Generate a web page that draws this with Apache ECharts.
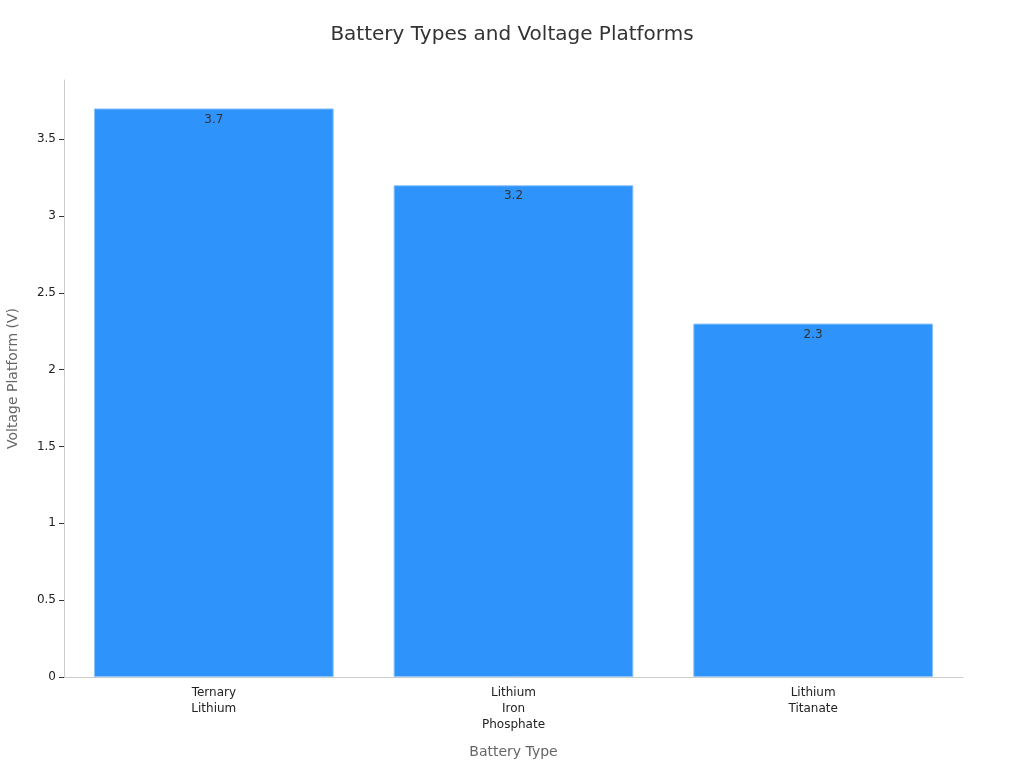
<!DOCTYPE html>
<html>
<head>
<meta charset="utf-8">
<script src="https://cdn.jsdelivr.net/npm/echarts@6/dist/echarts.min.js"></script>
<style>
html, body { margin: 0; padding: 0; background: #fff; }
#chart { width: 1024px; height: 768px; }
</style>
</head>
<body>
<div id="chart"></div>
<script>
var categories = ['Ternary\nLithium', 'Lithium\nIron\nPhosphate', 'Lithium\nTitanate'];
var voltages = [3.7, 3.2, 2.3];

var myChart = echarts.init(document.getElementById('chart'));
myChart.setOption({
    animation: false,
    textStyle: { fontFamily: 'DejaVu Sans' },
    title: {
        text: 'Battery Types and Voltage Platforms',
        left: 'center',
        top: 20,
        textStyle: { fontSize: 20, fontWeight: 'normal', color: '#333' }
    },
    grid: { left: 64, right: 61, top: 80, bottom: 91, containLabel: false, outerBoundsMode: 'none' },
    xAxis: {
        type: 'category',
        data: categories,
        name: 'Battery Type',
        nameLocation: 'middle',
        nameGap: 68,
        nameTextStyle: { fontSize: 14, color: '#666' },
        axisLine: { lineStyle: { color: '#ccc' } },
        axisTick: { alignWithLabel: true, lineStyle: { color: '#333' } },
        axisLabel: { color: '#222', fontSize: 12, lineHeight: 16 }
    },
    yAxis: {
        type: 'value',
        name: 'Voltage Platform (V)',
        nameLocation: 'middle',
        nameGap: 44,
        nameTextStyle: { fontSize: 14, color: '#666' },
        min: 0,
        max: 3.885,
        interval: 0.5,
        axisLine: { show: true, lineStyle: { color: '#ccc' } },
        axisTick: { show: true, lineStyle: { color: '#333' } },
        axisLabel: { color: '#222', fontSize: 12, showMaxLabel: false },
        splitLine: { show: false }
    },
    series: [
        {
            type: 'bar',
            data: voltages,
            barCategoryGap: '20%',
            itemStyle: { color: '#2e93fa', borderColor: '#8cc4fb', borderWidth: 1 },
            label: {
                show: true,
                position: 'insideTop',
                color: '#333',
                fontSize: 12
            }
        }
    ]
});
</script>
</body>
</html>
